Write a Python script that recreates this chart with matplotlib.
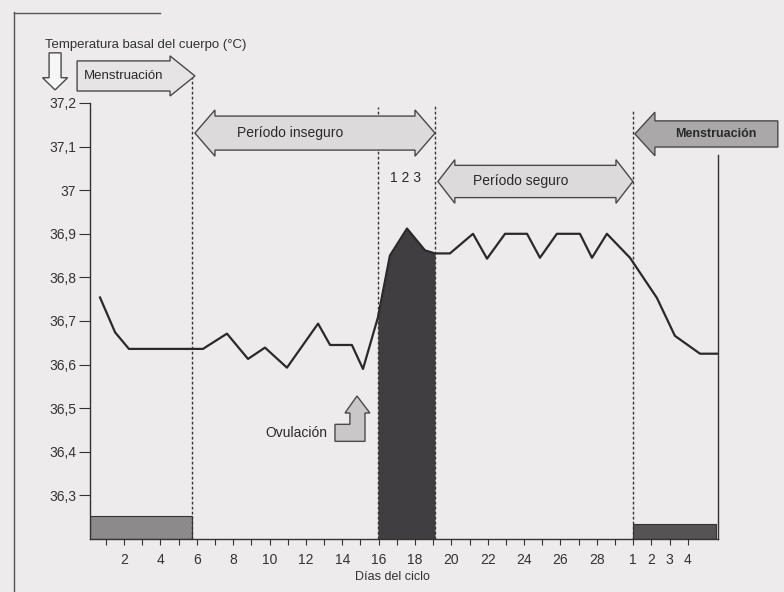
import matplotlib
matplotlib.use("Agg")
import matplotlib.pyplot as plt
from matplotlib.patches import Polygon
from matplotlib.lines import Line2D
import numpy as np

plt.rcParams['font.family'] = ['Liberation Sans', 'DejaVu Sans']

# basal temperature curve (day of cycle, degrees C)
days = [0.68, 1.51, 2.27, 6.34, 7.66, 8.82, 9.75, 10.96, 12.67, 13.33, 14.53, 15.14,
        15.96, 16.62, 17.56, 18.55, 19.10, 19.92, 21.19, 21.96, 22.95, 24.16, 24.87,
        25.80, 27.07, 27.73, 28.55, 29.82, 31.30, 32.29, 33.67, 34.66]
temps = [36.754, 36.674, 36.636, 36.636, 36.671, 36.613, 36.639, 36.593, 36.694, 36.645,
         36.645, 36.59, 36.708, 36.85, 36.912, 36.862, 36.855, 36.855, 36.90, 36.843,
         36.90, 36.90, 36.845, 36.90, 36.90, 36.845, 36.90, 36.845, 36.753, 36.666,
         36.625, 36.625]

# phase boundaries (dashed lines) and how high each one reaches
bounds = [5.74, 15.96, 19.10, 29.98]
bound_tops = [37.264, 37.19, 37.195, 37.184]

# menstruation blocks at the bottom
mens_start = [0.13, 29.98]
mens_end = [5.74, 34.55]
mens_top = [36.252, 36.235]
mens_colors = ['#8c8a8b', '#555354']

# days with the temperature rise (shaded)
rise_start, rise_end = 15.96, 19.10

ytick_vals = [36.3, 36.4, 36.5, 36.6, 36.7, 36.8, 36.9, 37.0, 37.1, 37.2]
ytick_labels = ['36,3', '36,4', '36,5', '36,6', '36,7', '36,8', '36,9', '37', '37,1', '37,2']
xtick_vals = [2, 4, 6, 8, 10, 12, 14, 16, 18, 20, 22, 24, 26, 28, 30, 31, 32, 33]
xtick_labels = ['2', '4', '6', '8', '10', '12', '14', '16', '18', '20', '22', '24', '26',
                '28', '1', '2', '3', '4']

bg = '#edebec'
ink = '#2a2a2a'

fig = plt.figure(figsize=(7.84, 5.92), dpi=100, facecolor=bg)
ax = fig.add_axes([90/784, 1-539/592, 628/784, 436/592])
ax.set_facecolor(bg)
ax.set_xlim(0.13, 34.66)
ax.set_ylim(36.2, 37.2)

days = np.array(days)
temps = np.array(temps)

# menstruation bars
ax.bar(mens_start, np.array(mens_top) - 36.2, width=np.array(mens_end) - np.array(mens_start),
       bottom=36.2, align='edge', color=mens_colors, edgecolor='#333333', linewidth=0.8, zorder=2)

# shaded rise
mask = (days >= rise_start) & (days <= rise_end)
ax.fill_between(days, temps, 36.2, where=mask, color='#403e40', linewidth=0, zorder=2)

# dashed boundaries
vl = ax.vlines(bounds, 36.2, bound_tops, colors='#333333', linestyles=(0, (2, 1.6)),
               linewidth=1.0, zorder=3)
vl.set_clip_on(False)

ax.plot(days, temps, color=ink, linewidth=1.6, zorder=4)

# axes styling
ax.spines['top'].set_visible(False)
ax.spines['right'].set_bounds(36.2, 37.08)
for s in ['left', 'right', 'bottom']:
    ax.spines[s].set_color('#333333')
    ax.spines[s].set_linewidth(1.0)
ax.set_yticks(ytick_vals)
ax.set_yticklabels(ytick_labels)
ax.tick_params(axis='y', direction='out', length=8, width=0.8, pad=2, labelsize=10,
               colors='#333333', right=False)
ax.set_xticks(xtick_vals)
ax.set_xticklabels(xtick_labels)
ax.set_xticks(range(1, 34), minor=True)
ax.tick_params(axis='x', which='both', direction='out', length=4, width=0.8, pad=6,
               labelsize=10, colors='#333333')
ax.set_xlabel('Días del ciclo', fontsize=9, color='#333333', x=0.481, labelpad=3)


def block_arrow(x0, x1, yc, body, head, hl, left=True, right=True, **kw):
    pts = []
    if left:
        pts += [(x0, yc), (x0 + hl, yc + head), (x0 + hl, yc + body)]
    else:
        pts += [(x0, yc + body)]
    if right:
        pts += [(x1 - hl, yc + body), (x1 - hl, yc + head), (x1, yc),
                (x1 - hl, yc - head), (x1 - hl, yc - body)]
    else:
        pts += [(x1, yc + body), (x1, yc - body)]
    if left:
        pts += [(x0 + hl, yc - body), (x0 + hl, yc - head)]
    else:
        pts += [(x0, yc - body)]
    p = Polygon(pts, closed=True, clip_on=False, zorder=5, **kw)
    ax.add_patch(p)


edge = dict(edgecolor='#4a4a4a', linewidth=1.0)
# left menstruation arrow
block_arrow(-0.58, 5.9, 37.262, 0.0345, 0.046, 1.37, left=False, facecolor='#e6e4e5', **edge)
ax.text(2.0, 37.262, 'Menstruación', ha='center', va='center', fontsize=9.5, color=ink,
        zorder=6, clip_on=False)
# down arrow
dx, bw, hw = -1.79, 0.33, 0.69
ax.add_patch(Polygon([(dx - bw, 37.315), (dx + bw, 37.315), (dx + bw, 37.258), (dx + hw, 37.258),
                      (dx, 37.23), (dx - hw, 37.258), (dx - bw, 37.258)], closed=True,
                     facecolor='#f6f6f6', clip_on=False, zorder=5, **edge))
# periodo inseguro
block_arrow(5.9, 19.10, 37.131, 0.039, 0.053, 1.1, facecolor='#dcdadb', **edge)
ax.text(11.13, 37.131, 'Período inseguro', ha='center', va='center', fontsize=10, color=ink,
        zorder=6, clip_on=False)
# periodo seguro
block_arrow(19.26, 29.98, 37.02, 0.037, 0.05, 0.93, facecolor='#dcdadb', **edge)
ax.text(23.83, 37.022, 'Período seguro', ha='center', va='center', fontsize=10, color=ink,
        zorder=6, clip_on=False)
ax.text(17.5, 37.027, '1 2 3', ha='center', va='center', fontsize=10, color=ink, clip_on=False)
# right menstruation arrow
block_arrow(30.09, 37.95, 37.129, 0.03, 0.05, 1.1, right=False, facecolor='#aaa8a9', **edge)
ax.text(34.55, 37.13, 'Menstruación', ha='center', va='center', fontsize=9, color=ink,
        fontweight='bold', zorder=6, clip_on=False)
# ovulation bent arrow
ax.add_patch(Polygon([(13.60, 36.424), (13.60, 36.463), (14.42, 36.463), (14.42, 36.489),
                      (14.15, 36.489), (14.81, 36.528), (15.52, 36.489), (15.25, 36.489),
                      (15.25, 36.424)], closed=True, facecolor='#c9c7c8', zorder=5, **edge))
ax.text(13.16, 36.442, 'Ovulación', ha='right', va='center', fontsize=10, color=ink)

ax.text(-2.34, 37.334, 'Temperatura basal del cuerpo (°C)', ha='left', va='center',
        fontsize=9.5, color='#333333', clip_on=False)

# page edge of the scan
fig.add_artist(Line2D([14/784, 14/784], [0, 1-12/592], transform=fig.transFigure,
                      color='#555555', linewidth=1.0))
fig.add_artist(Line2D([14/784, 160/784], [1-13/592, 1-13/592], transform=fig.transFigure,
                      color='#555555', linewidth=1.0))

fig.savefig('out.png', dpi=100, facecolor=bg)
